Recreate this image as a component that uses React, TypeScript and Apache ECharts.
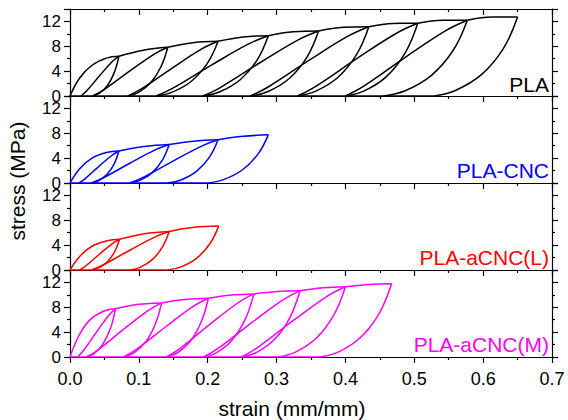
import React, { useEffect, useRef } from 'react';
import * as echarts from 'echarts';

type Pt = [number, number];

const panelNames = ['PLA', 'PLA-CNC', 'PLA-aCNC(L)', 'PLA-aCNC(M)'];
const panelColors = ['#000000', '#0000ff', '#ff0000', '#ff00ff'];
const strainLabel = 'strain (mm/mm)';
const stressLabel = 'stress (MPa)';

// PLA: initial loading, unloading curves, reloading curves, envelope caps, baseline
const plaCurves: Pt[][] = [
  [[0, 0], [0.014, 2.9], [0.032, 4.95], [0.053, 6.1], [0.071, 6.4]],
  [[0.071, 6.4], [0.0645, 3.84], [0.0547, 1.73], [0.0429, 0.45], [0.033, 0]],
  [[0.142, 7.85], [0.1321, 4.71], [0.1171, 2.12], [0.0991, 0.55], [0.084, 0]],
  [[0.215, 8.8], [0.1997, 5.28], [0.1763, 2.38], [0.1484, 0.62], [0.125, 0]],
  [[0.288, 9.7], [0.2719, 5.82], [0.2472, 2.62], [0.2177, 0.68], [0.193, 0]],
  [[0.361, 10.45], [0.3442, 6.27], [0.3184, 2.82], [0.2877, 0.73], [0.262, 0]],
  [[0.434, 11.15], [0.4163, 6.69], [0.3893, 3.01], [0.357, 0.78], [0.33, 0]],
  [[0.505, 11.7], [0.4872, 7.02], [0.4599, 3.16], [0.4273, 0.82], [0.4, 0]],
  [[0.577, 12.2], [0.5563, 7.32], [0.5245, 3.29], [0.4867, 0.85], [0.455, 0]],
  [[0.65, 12.7], [0.6293, 7.62], [0.5975, 3.43], [0.5597, 0.89], [0.528, 0]],
  [[0.016, 0], [0.0243, 0.83], [0.0435, 3.33], [0.0611, 5.5], [0.071, 6.4]],
  [[0.033, 0], [0.0494, 1.02], [0.0875, 4.08], [0.1224, 6.75], [0.142, 7.85]],
  [[0.084, 0], [0.1037, 1.14], [0.1495, 4.58], [0.1914, 7.57], [0.215, 8.8]],
  [[0.125, 0], [0.1495, 1.26], [0.2065, 5.04], [0.2587, 8.34], [0.288, 9.7]],
  [[0.193, 0], [0.2182, 1.36], [0.277, 5.43], [0.3308, 8.99], [0.361, 10.45]],
  [[0.262, 0], [0.2878, 1.45], [0.348, 5.8], [0.403, 9.59], [0.434, 11.15]],
  [[0.33, 0], [0.3563, 1.52], [0.4175, 6.08], [0.4735, 10.06], [0.505, 11.7]],
  [[0.4, 0], [0.4266, 1.59], [0.4885, 6.34], [0.5451, 10.49], [0.577, 12.2]],
  [[0.071, 6.4], [0.1065, 7.38], [0.142, 7.85]],
  [[0.142, 7.85], [0.1785, 8.58], [0.215, 8.8]],
  [[0.215, 8.8], [0.2515, 9.5], [0.288, 9.7]],
  [[0.288, 9.7], [0.3245, 10.33], [0.361, 10.45]],
  [[0.361, 10.45], [0.3975, 11.05], [0.434, 11.15]],
  [[0.434, 11.15], [0.4695, 11.68], [0.505, 11.7]],
  [[0.505, 11.7], [0.541, 12.2], [0.577, 12.2]],
  [[0.577, 12.2], [0.6135, 12.7], [0.65, 12.7]],
  [[0, 0], [0.528, 0]],
];

const cncCurves: Pt[][] = [
  [[0, 0], [0.014, 2.3], [0.032, 4.0], [0.053, 4.9], [0.071, 5.15]],
  [[0.071, 5.15], [0.0642, 3.09], [0.0538, 1.39], [0.0414, 0.36], [0.031, 0]],
  [[0.144, 6.2], [0.1343, 3.72], [0.1195, 1.67], [0.1018, 0.43], [0.087, 0]],
  [[0.215, 6.95], [0.2026, 4.17], [0.1836, 1.88], [0.161, 0.49], [0.142, 0]],
  [[0.288, 7.75], [0.273, 4.65], [0.2502, 2.09], [0.2229, 0.54], [0.2, 0]],
  [[0.013, 0], [0.0217, 0.67], [0.042, 2.68], [0.0606, 4.43], [0.071, 5.15]],
  [[0.031, 0], [0.048, 0.81], [0.0875, 3.22], [0.1237, 5.33], [0.144, 6.2]],
  [[0.087, 0], [0.1062, 0.9], [0.151, 3.61], [0.192, 5.98], [0.215, 6.95]],
  [[0.071, 5.15], [0.1075, 5.88], [0.144, 6.2]],
  [[0.144, 6.2], [0.1795, 6.72], [0.215, 6.95]],
  [[0.215, 6.95], [0.2515, 7.51], [0.288, 7.75]],
  [[0, 0], [0.2, 0]],
];

const aclCurves: Pt[][] = [
  [[0, 0], [0.0144, 2.23], [0.0324, 3.86], [0.054, 4.7], [0.072, 4.95]],
  [[0.072, 4.95], [0.065, 2.97], [0.0544, 1.34], [0.0417, 0.35], [0.031, 0]],
  [[0.144, 6.2], [0.1343, 3.72], [0.1195, 1.67], [0.1018, 0.43], [0.087, 0]],
  [[0.216, 7.1], [0.2034, 4.26], [0.1842, 1.92], [0.1612, 0.5], [0.142, 0]],
  [[0.014, 0], [0.0227, 0.64], [0.043, 2.57], [0.0616, 4.26], [0.072, 4.95]],
  [[0.031, 0], [0.048, 0.81], [0.0875, 3.22], [0.1237, 5.33], [0.144, 6.2]],
  [[0.072, 4.95], [0.108, 5.83], [0.144, 6.2]],
  [[0.144, 6.2], [0.18, 6.88], [0.216, 7.1]],
  [[0, 0], [0.142, 0]],
];

const acmCurves: Pt[][] = [
  [[0, 0], [0.0132, 3.5], [0.0297, 6.05], [0.0495, 7.4], [0.066, 7.75]],
  [[0.066, 7.75], [0.0589, 4.65], [0.0479, 2.09], [0.0349, 0.54], [0.024, 0]],
  [[0.133, 8.7], [0.1237, 5.22], [0.1094, 2.35], [0.0923, 0.61], [0.078, 0]],
  [[0.201, 9.45], [0.1906, 5.67], [0.1748, 2.55], [0.1559, 0.66], [0.14, 0]],
  [[0.267, 10.15], [0.2546, 6.09], [0.2356, 2.74], [0.213, 0.71], [0.194, 0]],
  [[0.334, 10.65], [0.3196, 6.39], [0.2975, 2.88], [0.2711, 0.75], [0.249, 0]],
  [[0.4, 11.3], [0.3833, 6.78], [0.3579, 3.05], [0.3275, 0.79], [0.302, 0]],
  [[0.467, 11.8], [0.4493, 7.08], [0.4223, 3.19], [0.39, 0.83], [0.363, 0]],
  [[0.011, 0], [0.0193, 1.01], [0.0385, 4.03], [0.0561, 6.67], [0.066, 7.75]],
  [[0.024, 0], [0.0404, 1.13], [0.0785, 4.52], [0.1134, 7.48], [0.133, 8.7]],
  [[0.078, 0], [0.0965, 1.23], [0.1395, 4.91], [0.1789, 8.13], [0.201, 9.45]],
  [[0.14, 0], [0.1591, 1.32], [0.2035, 5.28], [0.2441, 8.73], [0.267, 10.15]],
  [[0.194, 0], [0.215, 1.38], [0.264, 5.54], [0.3088, 9.16], [0.334, 10.65]],
  [[0.249, 0], [0.2717, 1.47], [0.3245, 5.88], [0.3728, 9.72], [0.4, 11.3]],
  [[0.066, 7.75], [0.0995, 8.47], [0.133, 8.7]],
  [[0.133, 8.7], [0.167, 9.27], [0.201, 9.45]],
  [[0.201, 9.45], [0.234, 9.98], [0.267, 10.15]],
  [[0.267, 10.15], [0.3005, 10.53], [0.334, 10.65]],
  [[0.334, 10.65], [0.367, 11.14], [0.4, 11.3]],
  [[0.4, 11.3], [0.4335, 11.68], [0.467, 11.8]],
  [[0, 0], [0.363, 0]],
];

const panelCurves = [plaCurves, cncCurves, aclCurves, acmCurves];

const FONT = 'Liberation Sans, Arial, sans-serif';
const GRID_LEFT = 70;
const GRID_WIDTH = 482;
const GRID_TOPS = [9, 96, 183, 270];
const GRID_H = 87;
const LABEL_Y = [84, 170, 257, 344.5];

export default function App() {
  const ref = useRef<HTMLDivElement>(null);
  useEffect(() => {
    if (!ref.current) return;
    const chart = echarts.init(ref.current, undefined, { renderer: 'svg' });
    const lineStyle = { color: '#000', width: 1.2 };
    const axisLine = { show: true, onZero: false, lineStyle };
    const grid = GRID_TOPS.map((t) => ({ left: GRID_LEFT, width: GRID_WIDTH, top: t, height: GRID_H }));
    const xAxis: any[] = GRID_TOPS.map((_, i) => ({
      type: 'value',
      gridIndex: i,
      position: 'bottom',
      min: 0,
      max: 0.7,
      interval: 0.1,
      axisLine,
      axisTick: { show: true, inside: false, length: 6, lineStyle },
      minorTick: { show: true, splitNumber: 2, length: 3, lineStyle },
      splitLine: { show: false },
      axisLabel: {
        show: i === 3,
        fontSize: 18,
        fontFamily: FONT,
        color: '#000',
        margin: 13,
        formatter: (v: number) => v.toFixed(1),
      },
    }));
    xAxis.push({
      type: 'value',
      gridIndex: 0,
      position: 'top',
      min: 0,
      max: 0.7,
      interval: 0.1,
      axisLine,
      axisTick: { show: true, inside: true, length: 6, lineStyle },
      minorTick: { show: true, splitNumber: 2, length: 3, lineStyle },
      splitLine: { show: false },
      axisLabel: { show: false },
    });
    const yAxis: any[] = [];
    GRID_TOPS.forEach((_, i) => {
      yAxis.push({
        type: 'value',
        gridIndex: i,
        position: 'left',
        min: 0,
        max: 14,
        interval: 4,
        axisLine,
        axisTick: { show: true, inside: false, length: 6, lineStyle },
        minorTick: { show: true, splitNumber: 2, length: 3, lineStyle },
        splitLine: { show: false },
        axisLabel: { show: true, fontSize: 17, fontFamily: FONT, color: '#000', margin: 9, showMaxLabel: false },
      });
      yAxis.push({
        type: 'value',
        gridIndex: i,
        position: 'right',
        min: 0,
        max: 14,
        interval: 4,
        axisLine,
        axisTick: { show: true, inside: false, length: 6, lineStyle },
        minorTick: { show: true, splitNumber: 2, length: 3, lineStyle },
        splitLine: { show: false },
        axisLabel: { show: false },
      });
    });
    const series: any[] = [];
    panelCurves.forEach((curves, i) => {
      curves.forEach((c) => {
        series.push({
          type: 'line',
          xAxisIndex: i,
          yAxisIndex: i * 2,
          data: c,
          showSymbol: false,
          symbol: 'none',
          smooth: 0.4,
          silent: true,
          lineStyle: { color: panelColors[i], width: 1.5 },
        });
      });
    });
    const graphic: any[] = panelNames.map((n, i) => ({
      type: 'text',
      x: 549,
      y: LABEL_Y[i],
      style: { text: n, fill: panelColors[i], fontSize: 21, fontFamily: FONT, align: 'right', verticalAlign: 'middle' },
    }));
    graphic.push({
      type: 'text',
      x: 17,
      y: 181,
      rotation: Math.PI / 2,
      style: { text: stressLabel, fill: '#000', fontSize: 21, fontFamily: FONT, align: 'center', verticalAlign: 'middle' },
    });
    graphic.push({
      type: 'text',
      x: 292,
      y: 408,
      style: { text: strainLabel, fill: '#000', fontSize: 21, fontFamily: FONT, align: 'center', verticalAlign: 'middle' },
    });
    chart.setOption({ animation: false, grid, xAxis, yAxis, series, graphic });
    return () => chart.dispose();
  }, []);
  return <div ref={ref} style={{ position: 'fixed', left: 0, top: 0, width: 568, height: 420, background: '#fff' }} />;
}
